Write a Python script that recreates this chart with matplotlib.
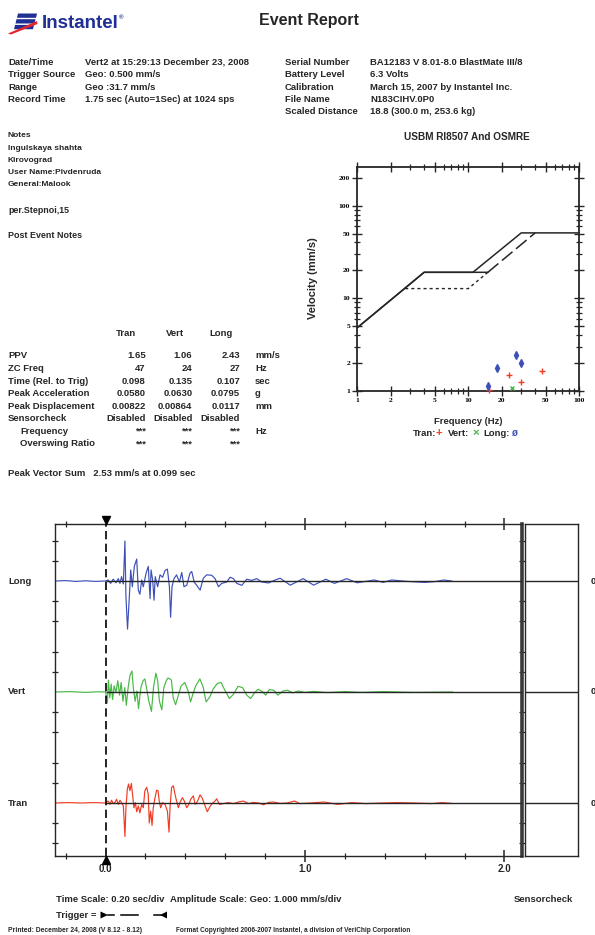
import matplotlib
matplotlib.use("Agg")
import matplotlib.pyplot as plt
import matplotlib.transforms as mtransforms
from matplotlib.patches import Polygon
from matplotlib.ticker import FixedLocator, FixedFormatter, NullFormatter

plt.rcParams['font.family'] = ['Liberation Sans', 'DejaVu Sans']

# ---------------------------------------------------------------- data
info_left_labels = ["Date/Time", "Trigger Source", "Range", "Record Time"]
info_left_values = ["Vert2 at 15:29:13 December 23, 2008", "Geo: 0.500 mm/s",
                    "Geo :31.7 mm/s", "1.75 sec (Auto=1Sec) at 1024 sps"]
info_right_labels = ["Serial Number", "Battery Level", "Calibration", "File Name",
                     "Scaled Distance"]
info_right_values = ["BA12183 V 8.01-8.0 BlastMate III/8", "6.3 Volts",
                     "March 15, 2007 by Instantel Inc.", "N183CIHV.0P0",
                     "18.8 (300.0 m, 253.6 kg)"]
notes_lines = ["Notes", "Ingulskaya shahta", "Kirovograd", "User Name:Pivdenruda",
               "General:Malook"]
location_line = "per.Stepnoi,15"
post_notes = "Post Event Notes"

channels = ["Tran", "Vert", "Long"]
ppv = [1.65, 1.06, 2.43]
zc_freq = [47, 24, 27]
time_rel = [0.098, 0.135, 0.107]
peak_acc = [0.0580, 0.0630, 0.0795]
peak_disp = [0.00822, 0.00864, 0.0117]
sensorcheck = ["Disabled", "Disabled", "Disabled"]
sc_freq = ["***", "***", "***"]
sc_overswing = ["***", "***", "***"]
pvs_text = "Peak Vector Sum   2.53 mm/s at 0.099 sec"

# USBM RI8507 / OSMRE limit curves (Hz, mm/s)
osmre_f = [1, 4, 11, 30, 100]
osmre_v = [4.8, 19.05, 19.05, 50.8, 50.8]
drywall_f = [1, 4, 15, 40, 100]
drywall_v = [4.8, 19.05, 19.05, 50.8, 50.8]
plaster_f = [2.7, 10, 15]
plaster_v = [12.7, 12.7, 19.05]
# frequency-analysis points
tran_fa = [15.5, 23.3, 29.8, 46.4]
tran_pa = [1.03, 1.46, 1.24, 1.65]
vert_fa = [24.6]
vert_pa = [1.06]
long_fa = [14.9, 18.2, 26.7, 30.1]
long_pa = [1.13, 1.74, 2.41, 1.99]
usbm_xticks = [1, 2, 5, 10, 20, 50, 100]
usbm_yticks = [1, 2, 5, 10, 20, 50, 100, 200]

# waveforms (sec, mm/s)
long_t = [-0.250, -0.200, -0.150, -0.100, -0.050, 0.000, 0.013, 0.025, 0.038, 0.052,
          0.064, 0.072, 0.080, 0.089, 0.097, 0.102, 0.110, 0.119, 0.126, 0.134,
          0.144, 0.156, 0.164, 0.172, 0.181, 0.189, 0.203, 0.214, 0.223, 0.228,
          0.236, 0.243, 0.249, 0.261, 0.273, 0.286, 0.298, 0.310, 0.320, 0.326,
          0.333, 0.343, 0.356, 0.370, 0.382, 0.393, 0.407, 0.423, 0.432, 0.444,
          0.457, 0.474, 0.490, 0.507, 0.532, 0.549, 0.566, 0.582, 0.608, 0.624,
          0.641, 0.658, 0.683, 0.708, 0.733, 0.758, 0.783, 0.817, 0.850, 0.875,
          0.900, 0.926, 0.991, 1.043, 1.104, 1.148, 1.209, 1.261, 1.348, 1.391,
          1.435, 1.513, 1.600, 1.652, 1.696, 1.736]
long_v = [0.00, 0.02, -0.02, 0.01, -0.02, 0.00, 0.05, -0.12, 0.09, -0.09,
          0.12, -0.12, 0.22, -0.15, 2.02, -0.80, -2.43, -0.80, 0.56, -0.29,
          0.74, 1.11, -0.46, -0.67, 0.05, -0.29, 0.39, 0.74, -0.89, 0.56,
          0.05, -0.97, 0.22, -0.29, 0.31, 0.19, 0.53, 0.60, -0.29, -1.83,
          -0.29, 0.12, 0.31, -0.05, 0.43, -0.29, -0.21, 0.39, 0.48, -0.05,
          -0.22, -0.46, 0.14, 0.31, 0.29, 0.12, -0.29, -0.12, -0.05, 0.19,
          0.12, -0.12, -0.22, 0.09, 0.03, 0.12, -0.05, -0.10, 0.05, 0.14,
          -0.03, -0.21, 0.12, -0.21, 0.09, -0.12, 0.12, -0.09, 0.05, -0.07,
          0.05, -0.02, -0.07, -0.03, 0.05, 0.00]
vert_t = [-0.250, -0.180, -0.100, -0.040, 0.000, 0.009, 0.014, 0.021, 0.028, 0.035,
          0.043, 0.052, 0.061, 0.070, 0.078, 0.087, 0.096, 0.104, 0.113, 0.122,
          0.132, 0.139, 0.148, 0.157, 0.165, 0.177, 0.188, 0.197, 0.205, 0.217,
          0.230, 0.240, 0.252, 0.261, 0.270, 0.282, 0.292, 0.304, 0.313, 0.322,
          0.330, 0.339, 0.351, 0.365, 0.379, 0.397, 0.414, 0.426, 0.438, 0.452,
          0.473, 0.490, 0.504, 0.522, 0.539, 0.560, 0.579, 0.600, 0.621, 0.643,
          0.664, 0.687, 0.708, 0.727, 0.748, 0.765, 0.786, 0.803, 0.821, 0.843,
          0.864, 0.890, 0.913, 0.939, 0.965, 1.000, 1.043, 1.113, 1.200, 1.287,
          1.391, 1.548, 1.739]
vert_v = [0.00, 0.02, -0.02, 0.01, 0.00, -0.55, 0.60, -0.29, 0.40, -0.38,
          0.31, -0.03, 0.57, -0.16, 0.48, -0.47, 0.22, -0.67, 0.22, 0.83,
          1.06, 0.22, -0.47, 0.05, -0.84, 0.22, 0.57, 0.66, 0.22, -0.47,
          -0.98, 0.22, 0.95, 0.57, -0.47, -0.90, 0.22, 0.57, 0.71, 0.66,
          0.60, -0.29, -0.64, -0.16, 0.31, 0.48, 0.05, -0.50, -0.09, 0.31,
          0.66, 0.22, -0.50, -0.26, 0.14, 0.43, 0.48, 0.05, -0.33, -0.09,
          0.29, 0.22, -0.16, -0.33, -0.03, 0.14, 0.02, -0.16, 0.12, 0.09,
          -0.16, 0.05, 0.09, -0.05, 0.05, -0.02, 0.03, -0.03, 0.02, -0.02,
          0.02, -0.02, 0.00]
tran_t = [-0.250, -0.190, -0.120, -0.060, 0.000, 0.013, 0.022, 0.030, 0.038, 0.047,
          0.055, 0.064, 0.072, 0.080, 0.089, 0.097, 0.102, 0.109, 0.115, 0.122,
          0.129, 0.136, 0.142, 0.149, 0.156, 0.164, 0.172, 0.181, 0.189, 0.197,
          0.206, 0.214, 0.219, 0.226, 0.233, 0.239, 0.248, 0.256, 0.263, 0.269,
          0.276, 0.286, 0.298, 0.310, 0.318, 0.323, 0.331, 0.340, 0.348, 0.356,
          0.365, 0.373, 0.385, 0.395, 0.407, 0.417, 0.427, 0.440, 0.449, 0.460,
          0.474, 0.485, 0.499, 0.510, 0.524, 0.537, 0.549, 0.557, 0.571, 0.591,
          0.616, 0.641, 0.666, 0.691, 0.716, 0.741, 0.767, 0.792, 0.817, 0.842,
          0.875, 0.909, 0.948, 0.974, 1.026, 1.096, 1.165, 1.235, 1.304, 1.391,
          1.461, 1.548, 1.635, 1.687, 1.736]
tran_v = [0.00, 0.02, 0.00, 0.02, 0.00, 0.10, -0.07, 0.14, -0.03, 0.03,
          0.19, -0.07, 0.14, 0.02, -0.15, -1.69, -0.24, 0.70, 0.96, 0.62,
          0.99, 0.36, -0.24, 0.02, -0.44, -0.15, -0.50, -0.07, -0.24, 0.62,
          0.79, 0.44, -1.01, -0.41, -1.13, -0.24, 0.27, 0.65, 0.62, 0.10,
          -0.24, 0.02, -0.07, -0.41, -1.47, -0.24, 0.79, 0.87, 0.44, 0.10,
          -0.24, 0.02, 0.27, 0.10, -0.24, -0.07, 0.19, 0.36, -0.07, 0.07,
          0.41, 0.24, -0.15, -0.44, -0.17, 0.00, 0.10, 0.21, -0.07, -0.03,
          0.02, -0.03, 0.05, 0.10, -0.03, 0.03, 0.00, -0.09, 0.03, 0.05,
          -0.02, 0.00, 0.10, -0.03, 0.00, 0.05, -0.07, 0.02, -0.03, 0.00,
          0.02, 0.00, -0.03, 0.02, -0.02]
time_tick_values = [0.0, 1.0, 2.0]
time_tick_labels = ["0.0", "1.0", "2.0"]
time_minor_ticks = [-0.2, 0.2, 0.4, 0.6, 0.8, 1.2, 1.4, 1.6, 1.8]

# ---------------------------------------------------------------- layout
W, H = 595, 935
fig = plt.figure(figsize=(W / 100, H / 100), dpi=100)

def add_axes_px(l, t, r, b, **kw):
    return fig.add_axes([l / W, 1 - b / H, (r - l) / W, (b - t) / H], **kw)

INK = '#262626'
BLUE = '#3d4fb8'
GREEN = '#49b845'
RED = '#f03c24'
FS = 6.8

ov = add_axes_px(0, 0, W, H, zorder=5)
ov.set_xlim(0, W)
ov.set_ylim(H, 0)
ov.axis('off')

def txt(x, y, s, size=FS, weight='bold', color=INK, ha='left', **kw):
    ov.text(x, y, s, fontsize=size, fontweight=weight, color=color, ha=ha,
            va='center', **kw)

# logo
LOGO_BLUE = '#1f2f93'
for (y0, dx) in [(13.5, 0.0), (19.2, -1.5), (24.9, -3.0)]:
    ov.add_patch(Polygon([(18 + dx, y0), (37 + dx, y0), (36 + dx, y0 + 4.3),
                          (17 + dx, y0 + 4.3)], closed=True, color=LOGO_BLUE, lw=0))
ov.add_patch(Polygon([(8, 33.5), (37, 21.0), (37.5, 24.0), (11, 34.5)], closed=True,
                     color='#e4262c', lw=0))
txt(42, 24, "Instantel", size=13.5, color=LOGO_BLUE)
txt(119, 17.5, "®", size=4.5, color=LOGO_BLUE)
txt(309, 20, "Event Report", size=11.5, ha='center')

# info blocks
for i, (lab, val) in enumerate(zip(info_left_labels, info_left_values)):
    y = 62.3 + i * 12.45
    txt(8, y, lab)
    txt(85, y, val)
for i, (lab, val) in enumerate(zip(info_right_labels, info_right_values)):
    y = 62.3 + i * 12.35
    txt(285, y, lab)
    txt(370, y, val)

# notes
for i, s in enumerate(notes_lines):
    txt(8, 135.7 + i * 12.3, s, size=6.0)
txt(8, 210.7, location_line, size=6.4)
txt(8, 235, post_notes, size=6.4)

# table
hdr_x = [126, 174.5, 221]
col_r = [145.7, 192.3, 240]
for x, ch in zip(hdr_x, channels):
    txt(x, 334, ch, ha='center')
rows = [
    ("PPV", [f"{v:.2f}" for v in ppv], "mm/s", 8),
    ("ZC Freq", [f"{v:d}" for v in zc_freq], "Hz", 8),
    ("Time (Rel. to Trig)", [f"{v:.3f}" for v in time_rel], "sec", 8),
    ("Peak Acceleration", [f"{v:.4f}" for v in peak_acc], "g", 8),
    ("Peak Displacement", [f"{v:.3g}" for v in peak_disp], "mm", 8),
    ("Sensorcheck", sensorcheck, "", 8),
    ("Frequency", sc_freq, "Hz", 20),
    ("Overswing Ratio", sc_overswing, "", 20),
]
for i, (lab, vals, unit, x0) in enumerate(rows):
    y = 356 + i * 12.53
    txt(x0, y, lab)
    for xr, v in zip(col_r, vals):
        txt(xr, y, v, ha='right')
    if unit:
        txt(255, y, unit)
txt(8, 473.3, pvs_text)

# ---------------------------------------------------------------- USBM chart
us = add_axes_px(357.3, 167.3, 579.3, 390.7)
us.set_xscale('log')
us.set_yscale('log')
us.set_xlim(1, 100)
us.set_ylim(1, 260)
us.plot(osmre_f, osmre_v, color=INK, lw=1.1, solid_capstyle='butt')
us.plot(drywall_f[:3], drywall_v[:3], color=INK, lw=1.1)
us.plot(drywall_f[2:4], drywall_v[2:4], color=INK, lw=1.1, dashes=(9, 3))
us.plot(plaster_f, plaster_v, color=INK, lw=1.0, dashes=(2.2, 2.2))
us.plot(tran_fa, tran_pa, ls='none', marker='+', ms=4.5, mew=1.0, color=RED,
        clip_on=False, zorder=5)
us.plot(vert_fa, vert_pa, ls='none', marker='x', ms=3.5, mew=1.0, color=GREEN,
        clip_on=False, zorder=5)
us.plot(long_fa, long_pa, ls='none', marker='d', ms=4.0, color=BLUE,
        clip_on=False, zorder=5)
minor = [3, 4, 6, 7, 8, 9, 30, 40, 60, 70, 80, 90]
us.xaxis.set_major_locator(FixedLocator(usbm_xticks))
us.xaxis.set_major_formatter(FixedFormatter([str(v) for v in usbm_xticks]))
us.xaxis.set_minor_locator(FixedLocator(minor))
us.xaxis.set_minor_formatter(NullFormatter())
us.yaxis.set_major_locator(FixedLocator(usbm_yticks))
us.yaxis.set_major_formatter(FixedFormatter([str(v) for v in usbm_yticks]))
us.yaxis.set_minor_locator(FixedLocator(minor))
us.yaxis.set_minor_formatter(NullFormatter())
us.tick_params(which='both', direction='inout', top=True, right=True, color=INK)
us.tick_params(which='major', length=6.5, width=1.0, labelsize=5.4, pad=2.0)
us.tick_params(which='minor', length=4.0, width=0.9)
for lbl in us.get_xticklabels() + us.get_yticklabels():
    lbl.set_fontfamily(['Liberation Serif', 'DejaVu Serif'])
    lbl.set_fontweight('bold')
for s in us.spines.values():
    s.set_linewidth(1.3)
    s.set_color(INK)
txt(466.7, 136.7, "USBM RI8507 And OSMRE", size=7.2, ha='center')
ov.text(313, 278, "Velocity (mm/s)", fontsize=8, fontweight='bold', color=INK,
        rotation=90, ha='center', va='center')
txt(468, 421.7, "Frequency (Hz)", ha='center')
txt(412.7, 433.3, "Tran:")
txt(439, 433.3, "+", color=RED, ha='center', size=8)
txt(448, 433.3, "Vert:")
txt(475.7, 433.3, "×", color=GREEN, ha='center', size=8)
txt(483, 433.3, "Long:")
txt(515, 433.3, "ø", color=BLUE, ha='center', size=7)

# ---------------------------------------------------------------- waveforms
T0_PX, PX_PER_S = 105.6, 199.4
BOX_L, BOX_R, BOX_T, BOX_B = 55, 521.6, 524, 856
DIV_PX = 19.8
base_px = {"Long": 581, "Vert": 692, "Tran": 803}
off = {k: (581 - v) / DIV_PX for k, v in base_px.items()}
y_top = (581 - BOX_T) / DIV_PX
y_bot = (581 - BOX_B) / DIV_PX
t_left = (BOX_L - T0_PX) / PX_PER_S
t_right = (BOX_R - T0_PX) / PX_PER_S

ax = add_axes_px(BOX_L, BOX_T, BOX_R, BOX_B)
ax.set_xlim(t_left, t_right)
ax.set_ylim(y_bot, y_top)
for name, t, v, c in [("Long", long_t, long_v, BLUE), ("Vert", vert_t, vert_v, GREEN),
                      ("Tran", tran_t, tran_v, RED)]:
    ax.plot(t, [a + off[name] for a in v], color=c, lw=0.85, zorder=2)
    ax.hlines(off[name], 0, t_right, color=INK, lw=1.0, zorder=3)
    txt(8, base_px[name], name)
    txt(590.5, base_px[name], "0")
ax.axvline(0, color='black', lw=1.2, dashes=(5, 2.6), zorder=4)

ax.set_yticks([off[k] + d for k in off for d in (-2, -1, 1, 2)])
ax.tick_params(axis='y', direction='inout', length=4, width=0.9, left=True,
               right=True, labelleft=False, color=INK)
ax.xaxis.set_major_locator(FixedLocator([1.0, 2.0]))
ax.xaxis.set_minor_locator(FixedLocator(time_minor_ticks))
ax.tick_params(axis='x', which='major', direction='inout', length=9, width=1.1,
               top=True, bottom=True, labelbottom=False, color=INK)
ax.tick_params(axis='x', which='minor', direction='inout', length=3.8, width=0.9,
               top=True, bottom=True, color=INK)
for s in ('left', 'top', 'bottom'):
    ax.spines[s].set_linewidth(1.0)
    ax.spines[s].set_color(INK)
ax.spines['right'].set_linewidth(2.6)
ax.spines['right'].set_color('#3a3a3a')

for tv, tl in zip(time_tick_values, time_tick_labels):
    ax.annotate(tl, xy=(tv, 0), xycoords=('data', 'axes fraction'),
                xytext=(0, -9.4), textcoords='offset points', ha='center',
                va='center', fontsize=7, fontweight='bold', color=INK)

up = mtransforms.ScaledTranslation(0, 3 / 72, fig.dpi_scale_trans)
dn = mtransforms.ScaledTranslation(0, -3 / 72, fig.dpi_scale_trans)
ax.plot([0], [1], marker='v', ms=6, color='black',
        transform=ax.get_xaxis_transform() + up, clip_on=False, zorder=6)
ax.plot([0], [0], marker='^', ms=6, color='black',
        transform=ax.get_xaxis_transform() + dn, clip_on=False, zorder=6)

sc = add_axes_px(524.5, BOX_T, 578.3, BOX_B)
sc.set_xlim(0, 1)
sc.set_ylim(y_bot, y_top)
sc.set_xticks([])
sc.set_yticks([])
for k in off:
    sc.axhline(off[k], color=INK, lw=1.0)
for s in sc.spines.values():
    s.set_linewidth(1.0)
    s.set_color(INK)

# ---------------------------------------------------------------- footer
txt(56, 900, "Time Scale: 0.20 sec/div")
txt(170, 900, "Amplitude Scale: Geo: 1.000 mm/s/div")
txt(573, 900, "Sensorcheck", ha='right')
txt(56, 915, "Trigger =")
ov.add_patch(Polygon([(100.5, 911.5), (100.5, 918.5), (108, 915)], closed=True,
                     color='black', lw=0))
ov.plot([108, 114], [915, 915], color='black', lw=1.1)
ov.plot([121, 137.5], [915, 915], color='black', lw=1.1)
ov.plot([153.5, 161], [915, 915], color='black', lw=1.1)
ov.add_patch(Polygon([(167, 911.5), (167, 918.5), (160, 915)], closed=True,
                     color='black', lw=0))
txt(7.5, 930, "Printed: December 24, 2008 (V 8.12 - 8.12)", size=4.9)
txt(176, 930, "Format Copyrighted 2006-2007 Instantel, a division of VeriChip Corporation",
    size=4.7)

fig.savefig("out.png", dpi=100)
